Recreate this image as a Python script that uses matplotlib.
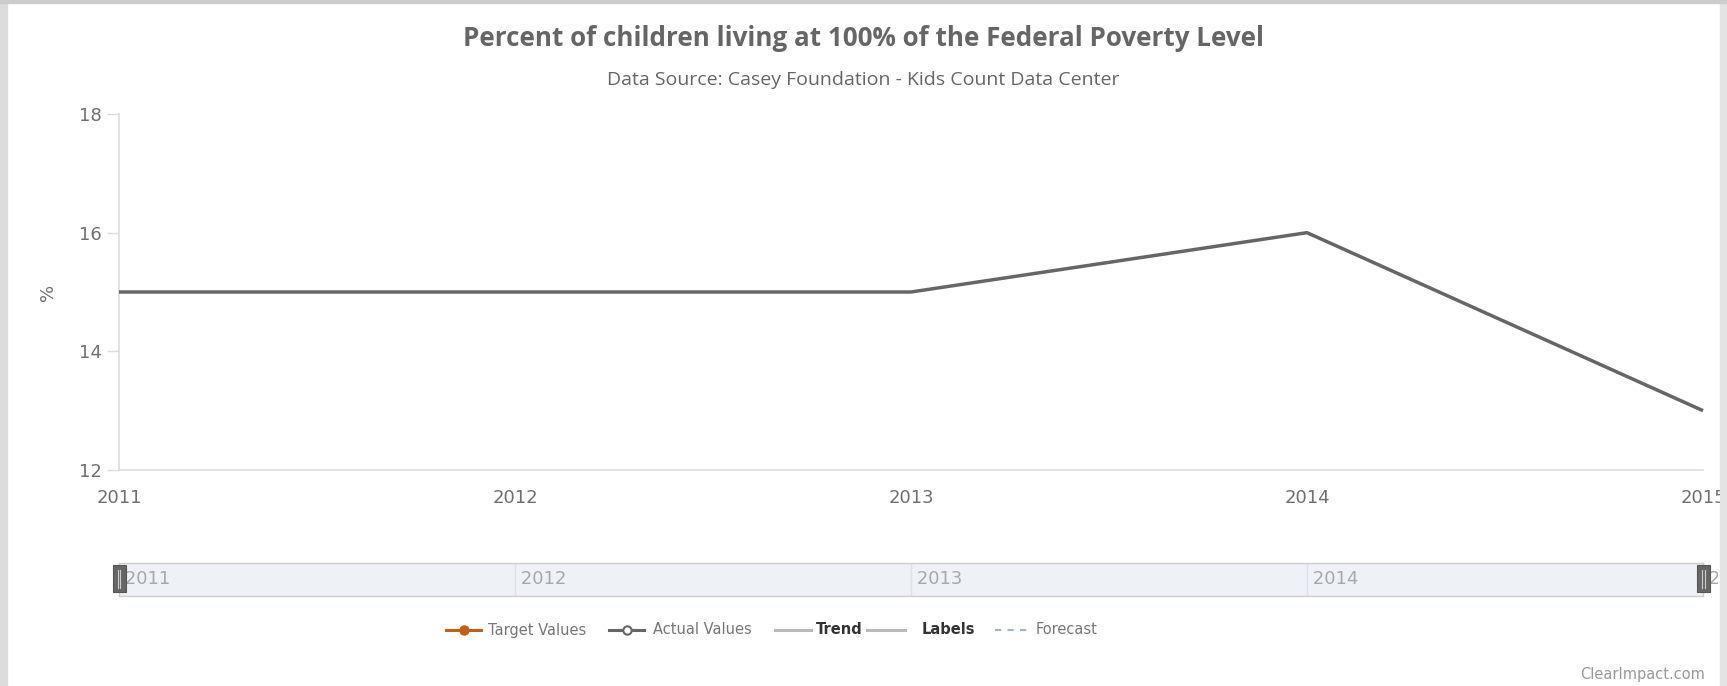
import matplotlib
matplotlib.use("Agg")
import matplotlib.pyplot as plt
from matplotlib.lines import Line2D
from matplotlib.patches import Rectangle
from matplotlib.transforms import Bbox, TransformedBbox

# --- data ---
years = [2011, 2012, 2013, 2014, 2015]
actual = [15, 15, 15, 16, 13]
y_ticks = [12, 14, 16, 18]
title = "Percent of children living at 100% of the Federal Poverty Level"
subtitle = "Data Source: Casey Foundation - Kids Count Data Center"
legend_labels = ["Target Values", "Actual Values", "Trend", "Labels", "Forecast"]

W, H = 1727, 686
fig = plt.figure(figsize=(W / 100, H / 100), dpi=100)
fig.patch.set_facecolor("white")


def fx(px):
    return px / W


def fy(py):
    return 1 - py / H


# page border (screenshot frame)
fig.patches.append(Rectangle((0, 0), fx(7), 1, transform=fig.transFigure,
                             color="#dcdcdc", zorder=0))
fig.patches.append(Rectangle((fx(1720), 0), fx(7), 1, transform=fig.transFigure,
                             color="#e4e4e4", zorder=0))
fig.patches.append(Rectangle((0, fy(3)), 1, 3 / H, transform=fig.transFigure,
                             color="#cccccc", zorder=0))

# --- main chart ---
ax = fig.add_axes([fx(119), fy(470), fx(1703 - 119), (470 - 114) / H])
ax.plot(years, actual, color="#666666", lw=2.5, solid_capstyle="butt",
        clip_on=False, zorder=3)
ax.set_xlim(years[0], years[-1])
ax.set_ylim(y_ticks[0], y_ticks[-1])
ax.set_yticks(y_ticks)
ax.set_xticks(years)
for side in ("top", "right"):
    ax.spines[side].set_visible(False)
for side in ("left", "bottom"):
    ax.spines[side].set_color("#dddddd")
    ax.spines[side].set_linewidth(1.2)
ax.tick_params(axis="y", length=9, width=1, color="#dddddd", pad=3.5,
               labelsize=13, labelcolor="#707070")
ax.tick_params(axis="x", length=0, pad=14, labelsize=13, labelcolor="#707070")
ax.set_ylabel("%", fontsize=13, color="#707070", labelpad=0)
ax.yaxis.set_label_coords(fx(57 - 119) / fx(1703 - 119), 0.5)

fig.text(0.5, fy(38), title, ha="center", va="center", fontsize=18.7,
         fontweight="bold", color="#666666", family="Open Sans")
fig.text(0.5, fy(80), subtitle, ha="center", va="center", fontsize=14,
         color="#666666", family="Open Sans")

# --- navigator ---
nav = fig.add_axes([fx(119), fy(596), fx(1703 - 119), (596 - 563) / H])
nav.set_facecolor("#eef1f6")
nav.set_xlim(years[0], years[-1])
nav.set_ylim(0, 1)
nav.set_xticks([])
nav.set_yticks([])
for s in nav.spines.values():
    s.set_color("#cccccc")
    s.set_linewidth(1)
for yr in years[1:-1]:
    nav.axvline(yr, color="#dde1e8", lw=1)
clip = TransformedBbox(Bbox.from_extents(fx(100), 0, fx(1718), 1), fig.transFigure)
for yr in years:
    t = nav.text(yr, 0.5, " " + str(yr), ha="left", va="center", fontsize=13,
                 color="#a8a8a8")
    t.set_clip_box(clip)
    t.set_clip_on(True)
for yr in (years[0], years[-1]):
    h = 13
    x0 = nav.transData.transform((yr, 0))[0]
    fig.patches.append(Rectangle((fx(x0 - h / 2), fy(592)), fx(h), 27 / H,
                                 transform=fig.transFigure, facecolor="#666666",
                                 edgecolor="#555555", lw=0.8, zorder=5))
    for dx in (-1.5, 1.5):
        fig.lines.append(Line2D([fx(x0 + dx)] * 2, [fy(588), fy(570)],
                                transform=fig.transFigure, color="#cccccc",
                                lw=0.8, zorder=6))

# --- legend ---
leg_y = fy(630)
items = [
    (446, 481, 488, dict(color="#c0601a", lw=2.2), "#c0601a", "#777777", "normal"),
    (609, 644, 653, dict(color="#666666", lw=2.2), "white", "#777777", "normal"),
    (775, 811, 816, dict(color="#bbbbbb", lw=2.2), None, "#333333", "bold"),
    (867, 905, 922, dict(color="#bbbbbb", lw=2.2), None, "#333333", "bold"),
    (995, 1029, 1036, dict(color="#a0b4cc", lw=1.5, ls=(0, (3, 3))), None,
     "#777777", "normal"),
]
for (x0, x1, xt, style, mfc, tc, fw), lab in zip(items, legend_labels):
    fig.lines.append(Line2D([fx(x0), fx(x1)], [leg_y, leg_y],
                            transform=fig.transFigure, **style))
    if mfc is not None:
        fig.lines.append(Line2D([fx((x0 + x1) / 2)], [leg_y],
                                transform=fig.transFigure, ls="none",
                                marker="o", ms=6, markerfacecolor=mfc,
                                markeredgecolor=style["color"], mew=1.5))
    fig.text(fx(xt), leg_y, lab, ha="left", va="center", fontsize=10.5,
             color=tc, fontweight=fw)

fig.text(fx(1705), fy(675), "ClearImpact.com", ha="right", va="center",
         fontsize=10.5, color="#999999")

fig.savefig("out.png", dpi=100)
